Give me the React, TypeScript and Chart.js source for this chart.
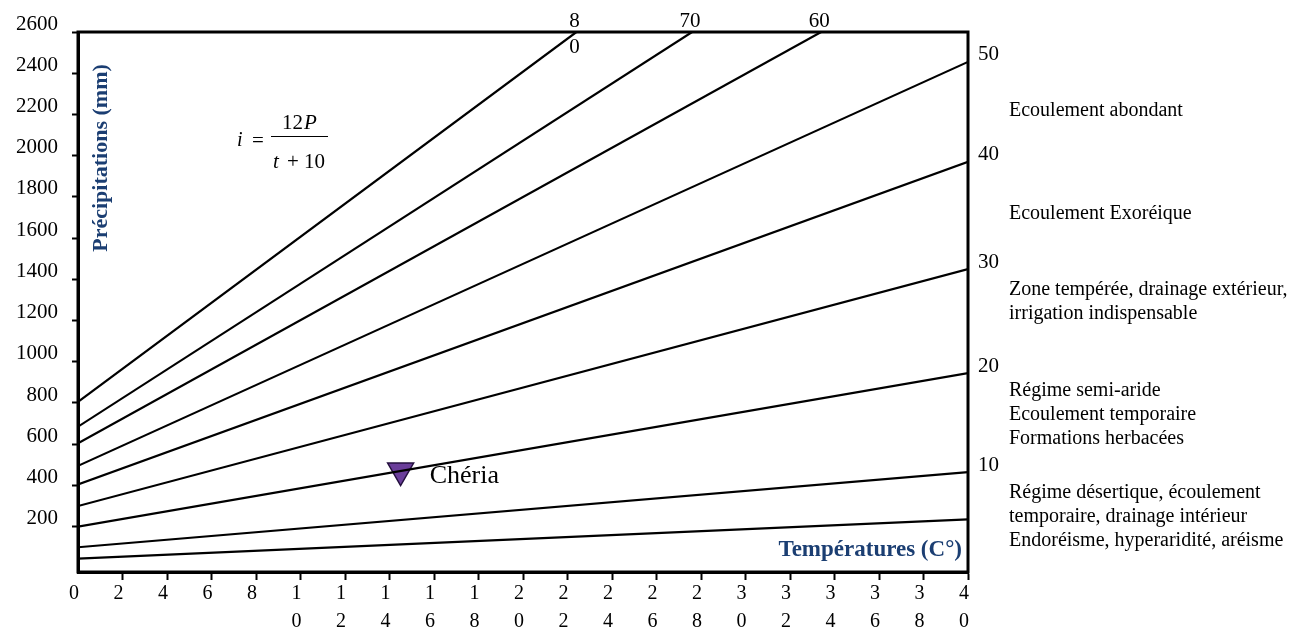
import React, { useEffect, useRef } from 'react';
import { Chart, registerables } from 'chart.js';

Chart.register(...registerables);

// Aridity index lines: precipitation (mm) at 0 °C and where each line ends
const indexValues = [5, 10, 20, 30, 40, 50, 60, 70, 80];
const precipAtZero = [45, 100, 200, 300, 405, 495, 605, 685, 805];
const lineEndTemp = [40, 40, 40, 40, 40, 40, 33.4, 27.6, 22.4];
const lineEndPrecip = [235, 465, 945, 1450, 1970, 2455, 2600, 2600, 2600];
const indexLabels: string[][] = [[], ['10'], ['20'], ['30'], ['40'], ['50'], ['60'], ['70'], ['8', '0']];

// Station
const stationName = 'Chéria';
const stationTemp = [14.5];
const stationPrecip = [472];

// Axis ticks
const xTickValues = [0, 2, 4, 6, 8, 10, 12, 14, 16, 18, 20, 22, 24, 26, 28, 30, 32, 34, 36, 38, 40];
const yTickValues = [200, 400, 600, 800, 1000, 1200, 1400, 1600, 1800, 2000, 2200, 2400, 2600];

// Axis titles
const xTitle = 'Températures (C°)';
const yTitle = 'Précipitations (mm)';

// Climate regime notes, from wettest to driest
const zoneNotes: string[][] = [
  ['Ecoulement abondant'],
  ['Ecoulement Exoréique'],
  ['Zone tempérée, drainage extérieur,', 'irrigation indispensable'],
  ['Régime semi-aride', 'Ecoulement temporaire', 'Formations herbacées'],
  ['Régime désertique, écoulement', 'temporaire, drainage intérieur', 'Endoréisme, hyperaridité, aréisme'],
];

const SERIF = "'Liberation Serif', 'Times New Roman', serif";
const NAVY = '#1b3e72';

const annotationsPlugin = {
  id: 'climateAnnotations',
  afterDatasetsDraw(chart: any) {
    const { ctx, chartArea: a, scales } = chart;
    const xs = scales.x;
    const ys = scales.y;
    ctx.save();

    // frame around the plot
    ctx.strokeStyle = '#000';
    ctx.lineWidth = 3;
    ctx.strokeRect(a.left, a.top, a.right - a.left, a.bottom - a.top);

    // index labels at the end of each line
    ctx.fillStyle = '#000';
    ctx.font = `21px ${SERIF}`;
    ctx.textBaseline = 'middle';
    indexLabels.forEach((lines, i) => {
      if (!lines.length) return;
      const ex = xs.getPixelForValue(lineEndTemp[i]);
      const ey = ys.getPixelForValue(lineEndPrecip[i]);
      if (lineEndTemp[i] >= xs.max) {
        ctx.textAlign = 'left';
        lines.forEach((s, k) => ctx.fillText(s, a.right + 10, ey - 7 + k * 26));
      } else {
        ctx.textAlign = 'center';
        lines.forEach((s, k) => ctx.fillText(s, ex - 2, a.top - 11 + k * 26));
      }
    });

    // regime notes on the right
    ctx.font = `20px ${SERIF}`;
    ctx.textAlign = 'left';
    const noteTops = [111, 214, 290, 391, 493];
    zoneNotes.forEach((lines, i) => {
      lines.forEach((s, k) => ctx.fillText(s, a.right + 41, noteTops[i] + k * 24));
    });

    // station label
    ctx.font = `26px ${SERIF}`;
    stationTemp.forEach((t, k) => {
      const px = xs.getPixelForValue(t);
      const py = ys.getPixelForValue(stationPrecip[k]);
      ctx.fillText(stationName, px + 29, py + 6);
    });

    // formula i = 12P / (t + 10)
    const fx = a.left + 159;
    const fy = a.top + 109;
    ctx.font = `italic 20px ${SERIF}`;
    ctx.fillText('i', fx, fy);
    ctx.font = `21px ${SERIF}`;
    ctx.fillText('=', fx + 15, fy);
    ctx.font = `21px ${SERIF}`;
    ctx.fillText('12', fx + 45, fy - 18);
    const w12 = ctx.measureText('12').width;
    ctx.font = `italic 21px ${SERIF}`;
    ctx.fillText('P', fx + 45 + w12 + 1, fy - 18);
    ctx.font = `italic 21px ${SERIF}`;
    ctx.fillText('t', fx + 36, fy + 21);
    ctx.font = `21px ${SERIF}`;
    ctx.fillText('+ 10', fx + 50, fy + 21);
    ctx.lineWidth = 1;
    ctx.beginPath();
    ctx.moveTo(fx + 34, fy - 4.5);
    ctx.lineTo(fx + 91, fy - 4.5);
    ctx.stroke();

    // axis titles
    ctx.fillStyle = NAVY;
    ctx.font = `bold 23px ${SERIF}`;
    ctx.textAlign = 'right';
    ctx.fillText(xTitle, a.right - 6, a.bottom - 22);
    ctx.font = `bold 22px ${SERIF}`;
    ctx.save();
    ctx.translate(a.left + 23, a.top + 126);
    ctx.rotate(-Math.PI / 2);
    ctx.textAlign = 'center';
    ctx.fillText(yTitle, 0, 0);
    ctx.restore();

    ctx.restore();
  },
};

export default function App() {
  const canvasRef = useRef<HTMLCanvasElement>(null);

  useEffect(() => {
    const canvas = canvasRef.current;
    if (!canvas) return;

    const datasets: any[] = indexValues.map((iv, i) => ({
      type: 'line',
      label: `i = ${iv}`,
      data: [
        { x: 0, y: precipAtZero[i] },
        { x: lineEndTemp[i], y: lineEndPrecip[i] },
      ],
      borderColor: '#000',
      borderWidth: 2.2,
      pointRadius: 0,
      fill: false,
      tension: 0,
    }));

    datasets.push({
      type: 'scatter',
      label: stationName,
      data: stationTemp.map((t, k) => ({ x: t, y: stationPrecip[k] })),
      pointStyle: 'triangle',
      rotation: 180,
      pointRadius: 15,
      backgroundColor: '#6a3d9a',
      borderColor: '#24103f',
      borderWidth: 1.5,
    });

    const chart = new Chart(canvas, {
      type: 'line',
      data: { datasets },
      options: {
        animation: false,
        responsive: false,
        maintainAspectRatio: false,
        layout: { padding: { left: 0, top: 32, right: 323, bottom: 0 } },
        plugins: {
          legend: { display: false },
          tooltip: { enabled: false },
        },
        scales: {
          x: {
            type: 'linear',
            min: 0,
            max: 40,
            afterBuildTicks: (s: any) => {
              s.ticks = xTickValues.map((v) => ({ value: v }));
            },
            afterFit: (s: any) => {
              s.height = 58;
            },
            grid: {
              drawOnChartArea: false,
              tickLength: 8,
              tickWidth: 2,
              color: (c: any) => (c.tick && c.tick.value === 0 ? 'rgba(0,0,0,0)' : '#000'),
            },
            border: { color: '#000', width: 3 },
            ticks: {
              color: '#000',
              padding: 0,
              labelOffset: -4,
              autoSkip: false,
              maxRotation: 0,
              font: { family: SERIF, size: 20, lineHeight: 1.4 },
              callback: (v: any) => String(v).split(''),
            },
          },
          y: {
            type: 'linear',
            min: -20,
            max: 2600,
            afterBuildTicks: (s: any) => {
              s.ticks = yTickValues.map((v) => ({ value: v }));
            },
            afterFit: (s: any) => {
              s.width = 78;
            },
            grid: {
              drawOnChartArea: false,
              tickLength: 6,
              tickWidth: 2,
              color: '#000',
            },
            border: { color: '#000', width: 3 },
            ticks: {
              color: '#000',
              padding: 14,
              labelOffset: -8,
              font: { family: SERIF, size: 21 },
              callback: (v: any) => String(v),
            },
          },
        },
      },
      plugins: [annotationsPlugin],
    });

    return () => chart.destroy();
  }, []);

  return (
    <div style={{ position: 'fixed', left: 0, top: 0, width: 1291, height: 630, background: '#fff' }}>
      <canvas ref={canvasRef} width={1291} height={630} style={{ display: 'block' }} />
    </div>
  );
}
